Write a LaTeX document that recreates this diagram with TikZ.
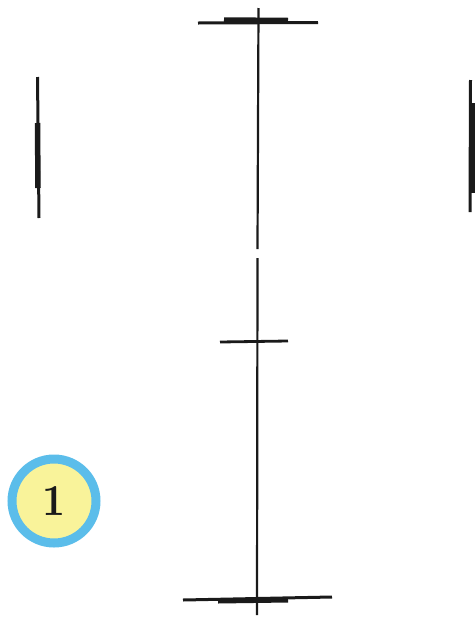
\documentclass[tikz,border=0pt]{standalone}
\usepackage{graphicx}
\usepackage{xcolor}
\usepackage{tikz}

\begin{document}
\begin{tikzpicture}[x=1pt,y=-1pt]

% Colori
\definecolor{colRing}{HTML}{5BBDEA}
\definecolor{colFill}{HTML}{F9F39A}
\definecolor{colInk}{HTML}{1A1A1A}

% Riquadro
\useasboundingbox (0,0) rectangle (475,619);

% Asse verticale (con piccola interruzione)
\draw[colInk, line width=2.2pt] (258.5,8) -- (257.5,249);
\draw[colInk, line width=2.2pt] (257.5,258) -- (257,615);

% Tacca superiore
\draw[colInk, line width=3pt] (198,23) -- (318,22.5);
\draw[colInk, line width=4.5pt] (224,19.5) -- (288,20);

% Tacca centrale
\draw[colInk, line width=2.8pt] (220,342) -- (288,341);

% Tacca inferiore
\draw[colInk, line width=3pt] (183,600) -- (332,597);
\draw[colInk, line width=5pt] (218,601) -- (288,600);

% Segno a sinistra
\draw[colInk, line width=3pt] (37.5,77) -- (39,218);
\draw[colInk, line width=5.5pt] (37.5,123) -- (38,188);

% Segno a destra
\draw[colInk, line width=3pt] (470.5,80) -- (470,212);
\draw[colInk, line width=6pt] (472,103) -- (472,193);

% Numero
\node[circle, draw=colRing, line width=9pt, fill=colFill, minimum size=84pt,
      inner sep=0pt, text=colInk]
      (numUno) at (54,501) {\resizebox{23pt}{29pt}{\bfseries 1}};
\end{tikzpicture}
\end{document}
